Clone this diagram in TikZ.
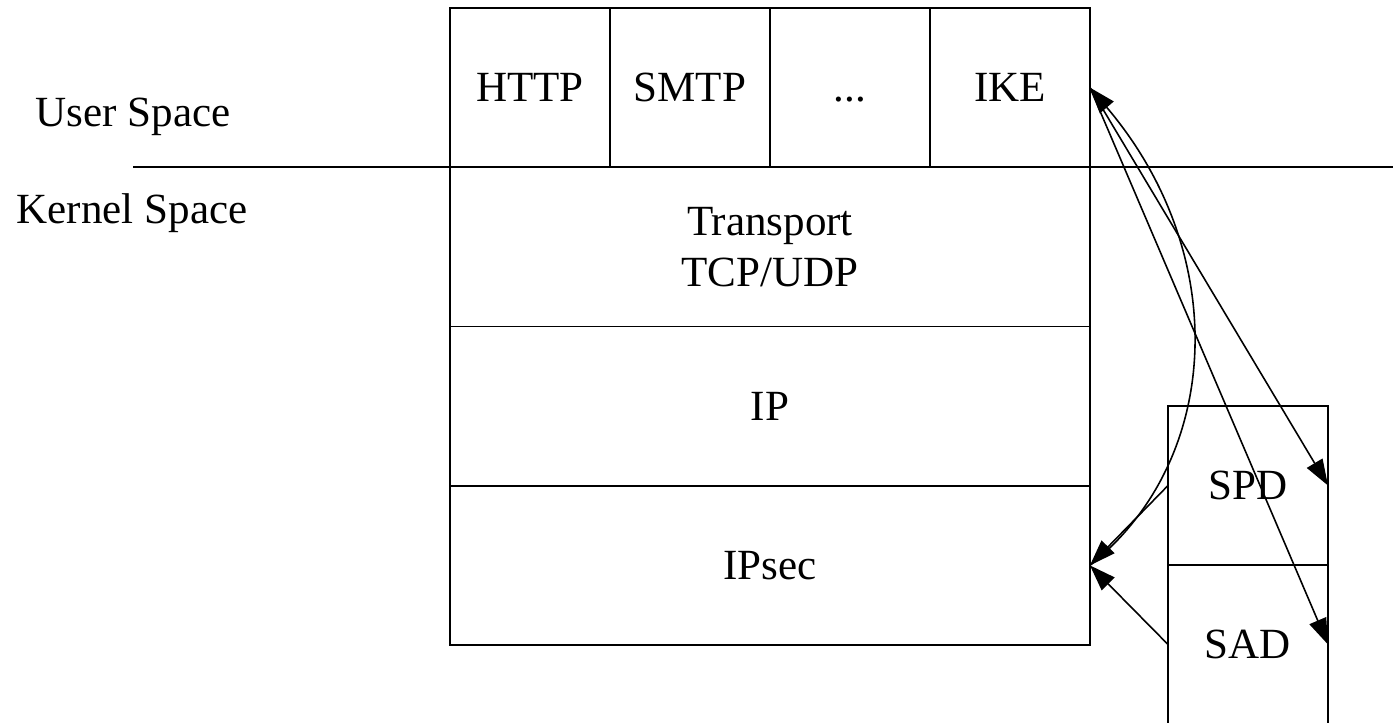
\documentclass[tikz,border=0pt]{standalone}
\usepackage{fontspec}
\setmainfont{Liberation Serif}
\usetikzlibrary{arrows.meta}
\begin{document}
\begin{tikzpicture}[x=0.02cm,y=-0.02cm,
    every node/.style={font=\fontsize{24.5}{29}\selectfont},
    layer/.style={draw,line width=1pt,minimum width=12.8cm,minimum height=3.185cm,
        inner sep=0pt,outer sep=0pt,align=center},
    app/.style={layer,minimum width=3.2cm},
    store/.style={layer,minimum width=3.2cm,minimum height=3.18cm},
    link/.style={line width=0.9pt,-{Triangle[length=0.52cm,width=0.36cm]}}]
    \clip (0,0) rectangle (1393,723);
    % user space applications
    \node [app] (http) at (530,87.6) {HTTP};
    \node [app] (smtp) at (690,87.6) {SMTP};
    \node [app] (dots) at (850,87.6) {\vphantom{HTTP}...};
    \node [app] (ike) at (1010,87.6) {IKE};
    % kernel layers
    \node [layer] (transport) at (770,246.9) {Transport\\TCP/UDP};
    \node [layer] (ip) at (770,406.1) {IP};
    \node [layer] (ipsec) at (770,565.4) {IPsec};
    % databases
    \node [store] (spd) at (1248,485.5) {SPD};
    \node [store] (sad) at (1248,644.5) {SAD};
    % user/kernel boundary
    \node (user) at (133,117) {User Space};
    \node (kernel) at (132,213) {Kernel Space};
    \coordinate (sepl) at (133,167.25);
    \coordinate (sepr) at (1393,167.25);
    \draw [line width=1pt] (sepl) -- (sepr);
    % connectors
    \draw [link] (ike.east) -- (spd.east);
    \draw [link] (ike.east) -- (sad.east);
    \draw [link,{Triangle[length=0.52cm,width=0.36cm]}-] (ike.east)
        .. controls (1232,255) and (1222,460) .. (ipsec.east);
    \draw [link] (spd.west) -- (ipsec.east);
    \draw [link] (sad.west) -- (ipsec.east);
\end{tikzpicture}
\end{document}
